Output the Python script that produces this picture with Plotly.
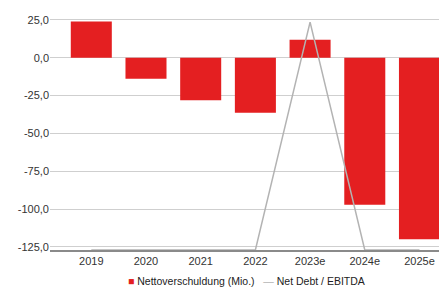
import plotly.graph_objects as go

categories = ["2019", "2020", "2021", "2022", "2023e", "2024e", "2025e"]
net_debt = [23.8, -13.9, -28.2, -36.4, 11.9, -97.2, -119.9]
net_debt_ebitda = [0.0, 0.0, 0.0, 0.0, 0.1, 0.0, 0.0]
y_tickvals = [25, 0, -25, -50, -75, -100, -125]
y_ticktext = ["25,0", "0,0", "-25,0", "-50,0", "-75,0", "-100,0", "-125,0"]
series_names = ["Nettoverschuldung (Mio.)", "Net Debt / EBITDA"]
bar_color = "#e41f21"
line_color = "#b3b3b3"

fig = go.Figure()
fig.add_trace(go.Bar(
    x=categories, y=net_debt, name=series_names[0],
    marker=dict(color=bar_color, line=dict(width=0)), width=0.75,
))
fig.add_trace(go.Scatter(
    x=categories, y=net_debt_ebitda, name=series_names[1], yaxis="y2",
    mode="lines", line=dict(color=line_color, width=1.5), cliponaxis=False,
))
legend_text = (f"<span style='color:{bar_color}'>■</span> {series_names[0]}"
               f"   <span style='color:{line_color}'>—</span> {series_names[1]}")
fig.add_annotation(
    text=legend_text, xref="paper", yref="paper", x=0.505, xanchor="center",
    y=-0.1, yanchor="top", showarrow=False,
    font=dict(size=10.5, color="#222222"),
)
fig.update_layout(
    width=439, height=289,
    margin=dict(l=50, r=0, t=16, b=39),
    paper_bgcolor="white", plot_bgcolor="white",
    font=dict(family="Liberation Sans, Arial, sans-serif", size=11, color="#333333"),
    showlegend=False,
    xaxis=dict(range=[-0.755, 6.357], showgrid=False, showline=True, automargin=False,
               linecolor="#8a8a8a", linewidth=1.5, ticks="", tickfont=dict(size=11)),
    yaxis=dict(range=[-127, 27.5], tickvals=y_tickvals, ticktext=y_ticktext,
               automargin=False,
               showgrid=True, gridcolor="#cfcfcf", gridwidth=1,
               zeroline=True, zerolinecolor="#cfcfcf", zerolinewidth=1,
               showline=False, ticks="", tickfont=dict(size=11)),
    yaxis2=dict(overlaying="y", side="right", range=[0, 0.1027], visible=False),
    bargap=0.25,
)
fig.write_html("out.html", config={"displayModeBar": False},
               post_script="document.body.style.margin='0';document.body.style.overflow='hidden';")
